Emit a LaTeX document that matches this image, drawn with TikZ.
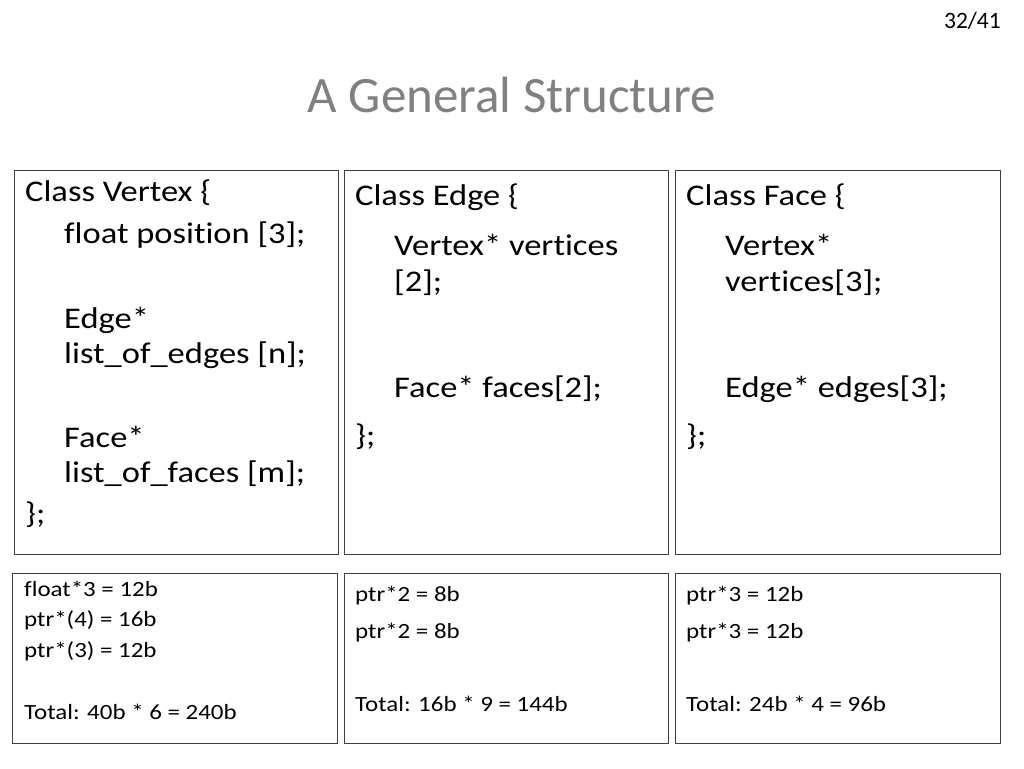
\documentclass[tikz,border=0pt]{standalone}
\usepackage{fontspec}
\setmainfont[Ligatures=NoCommon]{Carlito}
\newfontfamily\bodyfont[FakeStretch=1.15,Ligatures=NoCommon]{Carlito}
\begin{document}
\begin{tikzpicture}[x=1pt,y=-1pt,
  frame/.style={draw=black!75,line width=1pt},
  big/.style={anchor=base west,inner sep=0pt,font=\bodyfont\fontsize{30}{35}\selectfont},
  small/.style={anchor=base west,inner sep=0pt,font=\bodyfont\fontsize{21.7}{25}\selectfont}]
\useasboundingbox[fill=white] (0,0) rectangle (1024,768);
\node[anchor=base east,inner sep=0pt,font=\fontsize{23.5}{28}\selectfont] (pg) at (1001,29) {32/41};
\node[anchor=base,inner sep=0pt,text=black!50,font=\fontsize{51}{60}\selectfont] (title) at (512,112) {A General Structure};
% top boxes
\draw[frame] (14,170) rectangle (338,554);
\draw[frame] (344,170) rectangle (668,554);
\draw[frame] (675,170) rectangle (1000,554);
% bottom boxes
\draw[frame] (12,573) rectangle (337,743);
\draw[frame] (344,573) rectangle (668,743);
\draw[frame] (675,573) rectangle (1000,743);
% Vertex
\node[big] (v1) at (25,201) {Class Vertex \{};
\node[big] (v2) at (64,243) {float position [3];};
\node[big] (v3) at (64,328) {Edge*};
\node[big] (v4) at (64,363) {list\_of\_edges [n];};
\node[big] (v5) at (64,447) {Face*};
\node[big] (v6) at (64,482) {list\_of\_faces [m];};
\node[big] (v7) at (25,523) {\};};
% Edge
\node[big] (e1) at (355,205) {Class Edge \{};
\node[big] (e2) at (394,255) {Vertex* vertices};
\node[big] (e3) at (394,291) {[2];};
\node[big] (e4) at (394,397) {Face* faces[2];};
\node[big] (e5) at (355,445) {\};};
% Face
\node[big] (f1) at (686,205) {Class Face \{};
\node[big] (f2) at (725,255) {Vertex*};
\node[big] (f3) at (725,291) {vertices[3];};
\node[big] (f4) at (725,397) {Edge* edges[3];};
\node[big] (f5) at (686,445) {\};};
% bottom texts
\node[small] (a1) at (24,596) {float*3 = 12b};
\node[small] (a2) at (24,626) {ptr*(4) = 16b};
\node[small] (a3) at (24,657) {ptr*(3) = 12b};
\node[small] (a4) at (24,719) {Total: 40b * 6 = 240b};
\node[small] (b1) at (355,601) {ptr*2 = 8b};
\node[small] (b2) at (355,638) {ptr*2 = 8b};
\node[small] (b3) at (355,711) {Total: 16b * 9 = 144b};
\node[small] (c1) at (686,601) {ptr*3 = 12b};
\node[small] (c2) at (686,638) {ptr*3 = 12b};
\node[small] (c3) at (686,711) {Total: 24b * 4 = 96b};
\end{tikzpicture}
\end{document}
